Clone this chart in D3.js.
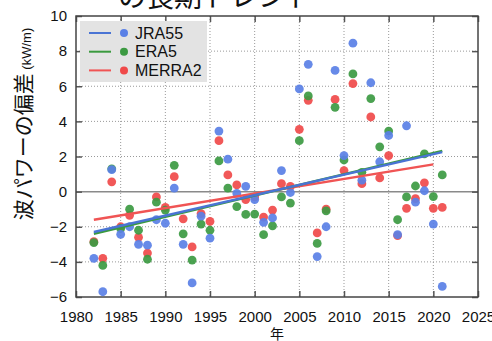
<!DOCTYPE html>
<html>
<head>
<meta charset="utf-8">
<script src="https://cdn.jsdelivr.net/npm/d3@7"></script>
<style>
  body { margin: 0; background: white; }
</style>
</head>
<body>
<div id="chart"></div>
<script>
// Data
const years = [1982, 1983, 1984, 1985, 1986, 1987, 1988, 1989, 1990, 1991,
  1992, 1993, 1994, 1995, 1996, 1997, 1998, 1999, 2000, 2001,
  2002, 2003, 2004, 2005, 2006, 2007, 2008, 2009, 2010, 2011,
  2012, 2013, 2014, 2015, 2016, 2017, 2018, 2019, 2020, 2021];

const jra55 = [-3.8, -5.7, 1.25, -2.43, -2.0, -3.0, -3.05, -1.6, -1.8, 0.2,
  -3.0, -5.2, -1.4, -2.65, 3.45, 1.85, -0.1, 0.3, -0.45, -1.75,
  -1.5, 1.2, -0.05, 5.85, 7.25, -3.7, -2.0, 6.9, 2.05, 8.45,
  0.65, 6.2, 1.7, 3.2, -2.45, 3.75, -0.6, 0.05, -1.85, -5.4];

const era5 = [-2.9, -4.2, 1.3, -2.1, -1.0, -2.2, -3.85, -0.6, -1.05, 1.5,
  -2.4, -3.9, -1.85, -2.2, 1.75, 0.2, -0.85, -1.3, -1.28, -2.45,
  -1.95, -0.3, -0.65, 2.9, 5.45, -2.95, -1.1, 4.8, 1.8, 6.7,
  1.1, 5.3, 2.55, 3.45, -1.6, -0.3, 0.32, 2.15, -0.28, 0.95];

const merra2 = [-2.85, -3.8, 0.56, -2.0, -1.35, -2.6, -3.5, -0.3, -0.9, 0.85,
  -1.55, -3.15, -1.25, -1.7, 2.9, 0.95, 0.38, -0.45, -0.3, -1.45,
  -1.05, 0.45, 0.3, 3.55, 5.2, -2.35, -1.0, 5.25, 1.2, 6.15,
  0.45, 4.25, 0.78, 2.05, -2.5, -0.95, -0.4, 0.5, -0.95, -0.9];

// trend line end points [year, value]
const jra55Trend = [[1982, -2.3], [2021, 2.25]];
const era5Trend = [[1982, -2.4], [2021, 2.32]];
const merra2Trend = [[1982, -1.6], [2020, 1.55]];

const xTicks = [1980, 1985, 1990, 1995, 2000, 2005, 2010, 2015, 2020, 2025];
const yTicks = [-6, -4, -2, 0, 2, 4, 6, 8, 10];

const seriesNames = ["JRA55", "ERA5", "MERRA2"];

// Dimensions
const width = 492;
const height = 341;
const margin = { top: 16, right: 14, bottom: 44, left: 76 };

const svg = d3.select("#chart")
  .append("svg")
  .attr("width", width)
  .attr("height", height)
  .style("font-family", "Liberation Sans, Arial, sans-serif");

const x = d3.scaleLinear()
  .domain([1980, 2025])
  .range([margin.left, width - margin.right]);

const y = d3.scaleLinear()
  .domain([-6, 10])
  .range([height - margin.bottom, margin.top]);

// title (second line only, the first is cut off)
svg.append("text")
  .attr("x", 90)
  .attr("y", 7)
  .style("font-family", "Noto Sans CJK JP")
  .style("font-size", "28px")
  .attr("fill", "#111")
  .text("ーの長期トレンド");

// grid lines
svg.append("g")
  .selectAll("line")
  .data(xTicks.slice(1, -1))
  .enter().append("line")
  .attr("x1", d => x(d))
  .attr("x2", d => x(d))
  .attr("y1", y(10))
  .attr("y2", y(-6))
  .attr("stroke", "#999")
  .attr("stroke-width", 1)
  .attr("stroke-dasharray", "1,2");

svg.append("g")
  .selectAll("line")
  .data(yTicks.filter(d => d !== 0 && d !== -6 && d !== 10))
  .enter().append("line")
  .attr("x1", x(1980))
  .attr("x2", x(2025))
  .attr("y1", d => y(d))
  .attr("y2", d => y(d))
  .attr("stroke", "#999")
  .attr("stroke-width", 1)
  .attr("stroke-dasharray", "1,2");

// zero line
svg.append("line")
  .attr("x1", x(1980))
  .attr("x2", x(2025))
  .attr("y1", y(0))
  .attr("y2", y(0))
  .attr("stroke", "#8a8a8a")
  .attr("stroke-width", 1.5);

// axes with inward ticks
const tickColor = "#555";
svg.append("g")
  .attr("transform", `translate(0,${y(-6)})`)
  .call(d3.axisBottom(x).tickValues(xTicks).tickFormat(d3.format("d")).tickSizeInner(-6).tickSizeOuter(0).tickPadding(14))
  .call(g => g.select(".domain").remove())
  .call(g => g.selectAll("line").attr("stroke", tickColor).attr("stroke-width", 1.5))
  .call(g => g.selectAll("text").style("font-size", "15px").attr("fill", "#111"));

svg.append("g")
  .attr("transform", `translate(0,${y(10)})`)
  .call(d3.axisTop(x).tickValues(xTicks).tickFormat("").tickSizeInner(-6).tickSizeOuter(0))
  .call(g => g.select(".domain").remove())
  .call(g => g.selectAll("line").attr("stroke", tickColor).attr("stroke-width", 1.5));

svg.append("g")
  .attr("transform", `translate(${x(1980)},0)`)
  .call(d3.axisLeft(y).tickValues(yTicks).tickSizeInner(-6).tickSizeOuter(0).tickPadding(9))
  .call(g => g.select(".domain").remove())
  .call(g => g.selectAll("line").attr("stroke", tickColor).attr("stroke-width", 1.5))
  .call(g => g.selectAll("text").style("font-size", "15px").attr("fill", "#111"));

svg.append("g")
  .attr("transform", `translate(${x(2025)},0)`)
  .call(d3.axisRight(y).tickValues(yTicks).tickFormat("").tickSizeInner(-6).tickSizeOuter(0))
  .call(g => g.select(".domain").remove())
  .call(g => g.selectAll("line").attr("stroke", tickColor).attr("stroke-width", 1.5));

// frame
svg.append("rect")
  .attr("x", x(1980))
  .attr("y", y(10))
  .attr("width", x(2025) - x(1980))
  .attr("height", y(-6) - y(10))
  .attr("fill", "none")
  .attr("stroke", "#444")
  .attr("stroke-width", 1.5);

// points: MERRA2 first, JRA55 on top
const pointColors = { JRA55: "#5a80e6", ERA5: "#3c9a42", MERRA2: "#f04a4a" };
const lineColors = { JRA55: "#4a74d4", ERA5: "#3a9a3e", MERRA2: "#f05454" };
const seriesData = { JRA55: jra55, ERA5: era5, MERRA2: merra2 };
const trendData = { JRA55: jra55Trend, ERA5: era5Trend, MERRA2: merra2Trend };

["MERRA2", "ERA5", "JRA55"].forEach(name => {
  svg.append("g")
    .selectAll("circle")
    .data(years.map((yr, i) => [yr, seriesData[name][i]]))
    .enter().append("circle")
    .attr("cx", d => x(d[0]))
    .attr("cy", d => y(d[1]))
    .attr("r", 4.4)
    .attr("fill", pointColors[name])
    .attr("fill-opacity", 0.92);
});

// trend lines
const line = d3.line()
  .x(d => x(d[0]))
  .y(d => y(d[1]));

["MERRA2", "ERA5", "JRA55"].forEach(name => {
  svg.append("path")
    .datum(trendData[name])
    .attr("d", line)
    .attr("fill", "none")
    .attr("stroke", lineColors[name])
    .attr("stroke-width", 2.4);
});

// legend
const legend = svg.append("g");
legend.append("rect")
  .attr("x", 80)
  .attr("y", 21)
  .attr("width", 127)
  .attr("height", 61)
  .attr("fill", "#e3e3e3");

seriesNames.forEach((name, i) => {
  const ly = 33 + i * 18.7;
  legend.append("line")
    .attr("x1", 89).attr("x2", 111)
    .attr("y1", ly).attr("y2", ly)
    .attr("stroke", lineColors[name])
    .attr("stroke-width", 2);
  legend.append("circle")
    .attr("cx", 124)
    .attr("cy", ly)
    .attr("r", 4)
    .attr("fill", pointColors[name]);
  legend.append("text")
    .attr("x", 135)
    .attr("y", ly + 5.5)
    .style("font-size", "16px")
    .attr("fill", "#111")
    .text(name);
});

// axis titles
svg.append("text")
  .attr("x", (x(1980) + x(2025)) / 2)
  .attr("y", 339)
  .attr("text-anchor", "middle")
  .style("font-family", "Noto Sans CJK JP")
  .style("font-size", "14px")
  .attr("fill", "#111")
  .text("年");

const yLabel = svg.append("text")
  .attr("transform", "translate(31,124) rotate(-90)")
  .attr("text-anchor", "middle")
  .style("font-family", "Noto Sans CJK JP")
  .attr("fill", "#111");
yLabel.append("tspan")
  .style("font-size", "21px")
  .text("波パワーの偏差");
yLabel.append("tspan")
  .style("font-size", "13px")
  .style("font-family", "Liberation Sans, Arial, sans-serif")
  .text(" (kW/m)");
</script>
</body>
</html>
